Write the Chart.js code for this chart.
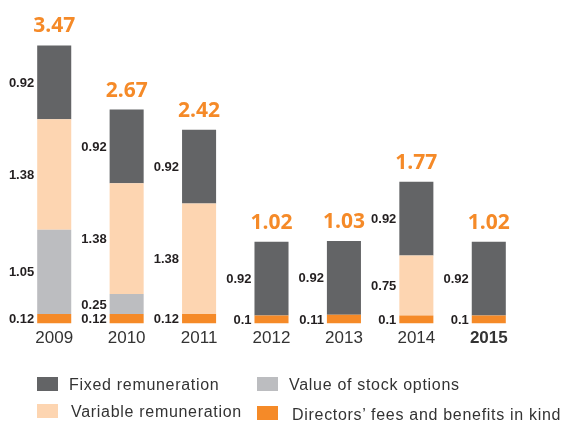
<!DOCTYPE html>
<html>
<head>
<meta charset="utf-8">
<script src="https://cdn.jsdelivr.net/npm/chart.js@4/dist/chart.umd.min.js"></script>
<style>
  html, body { margin: 0; padding: 0; background: #fff; }
  #wrap { position: relative; width: 564px; height: 422px; overflow: hidden; }
  #c { position: absolute; left: 0; top: 0; }
  .lg { position: absolute; font-family: "Liberation Sans", Arial, sans-serif; font-size: 16px; letter-spacing: 0.7px; color: #333; white-space: nowrap; line-height: 16px; }
  .sw { position: absolute; width: 21px; height: 14px; }
</style>
</head>
<body>
<div id="wrap">
  <canvas id="c" width="564" height="422"></canvas>
  <div class="sw" style="left:37px;top:377px;background:#636466"></div>
  <div class="lg" style="left:69px;top:377px">Fixed remuneration</div>
  <div class="sw" style="left:257px;top:377px;background:#BCBDC0"></div>
  <div class="lg" style="left:289px;top:377px">Value of stock options</div>
  <div class="sw" style="left:37px;top:404px;background:#FDD5B1"></div>
  <div class="lg" style="left:71px;top:404px">Variable remuneration</div>
  <div class="sw" style="left:257px;top:406px;background:#F58A28"></div>
  <div class="lg" style="left:292px;top:407px">Directors’ fees and benefits in kind</div>
</div>
<script>
const years = ['2009', '2010', '2011', '2012', '2013', '2014', '2015'];
const directorsFees = [0.12, 0.12, 0.12, 0.1, 0.11, 0.1, 0.1];
const stockOptions = [1.05, 0.25, 0, 0, 0, 0, 0];
const variableRem = [1.38, 1.38, 1.38, 0, 0, 0.75, 0];
const fixedRem = [0.92, 0.92, 0.92, 0.92, 0.92, 0.92, 0.92];
const totals = ['3.47', '2.67', '2.42', '1.02', '1.03', '1.77', '1.02'];

const labelPlugin = {
  id: 'labels',
  afterDatasetsDraw(chart) {
    const ctx = chart.ctx;
    ctx.save();
    ctx.font = 'bold 13px "Liberation Sans", Arial, sans-serif';
    ctx.fillStyle = '#231F20';
    ctx.textAlign = 'right';
    ctx.textBaseline = 'middle';
    chart.data.datasets.forEach((ds, di) => {
      const meta = chart.getDatasetMeta(di);
      meta.data.forEach((bar, i) => {
        const v = ds.data[i];
        if (!v) return;
        const y = (bar.y + bar.base) / 2;
        ctx.fillText(String(v), bar.x - bar.width / 2 - 3, y + 1);
      });
    });
    const top = chart.getDatasetMeta(chart.data.datasets.length - 1);
    ctx.font = 'bold 21px "Open Sans", "Liberation Sans", Arial, sans-serif';
    ctx.fillStyle = '#F58A28';
    ctx.textAlign = 'center';
    ctx.textBaseline = 'alphabetic';
    top.data.forEach((bar, i) => {
      ctx.fillText(totals[i], bar.x, bar.y - 13);
    });
    ctx.restore();
  }
};

new Chart(document.getElementById('c'), {
  type: 'bar',
  data: {
    labels: years,
    datasets: [
      { label: 'Directors’ fees and benefits in kind', data: directorsFees, backgroundColor: '#F58A28' },
      { label: 'Value of stock options', data: stockOptions, backgroundColor: '#BCBDC0' },
      { label: 'Variable remuneration', data: variableRem, backgroundColor: '#FDD5B1' },
      { label: 'Fixed remuneration', data: fixedRem, backgroundColor: '#636466' }
    ]
  },
  options: {
    responsive: false,
    animation: false,
    layout: { padding: { left: 18, right: 39, top: 3, bottom: 68 } },
    plugins: { legend: { display: false }, tooltip: { enabled: false } },
    datasets: { bar: { barPercentage: 0.47, categoryPercentage: 1, borderWidth: 0 } },
    scales: {
      x: {
        stacked: true,
        grid: { display: false, drawTicks: false },
        border: { display: false },
        ticks: {
          padding: 5,
          color: '#333',
          font: (c) => ({ family: '"Liberation Sans", Arial, sans-serif', size: 17, weight: c.index === 6 ? 'bold' : 'normal' })
        }
      },
      y: { stacked: true, display: false, min: 0, max: 4 }
    }
  },
  plugins: [labelPlugin]
});
</script>
</body>
</html>
